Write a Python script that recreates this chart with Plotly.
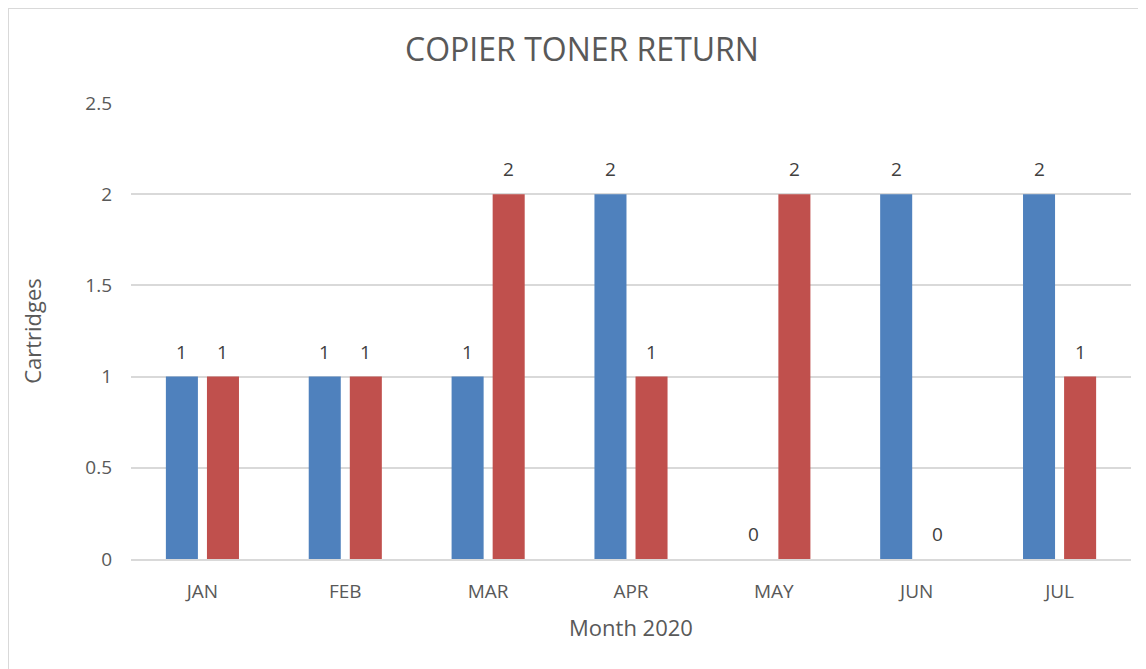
import plotly.graph_objects as go

months = ["JAN", "FEB", "MAR", "APR", "MAY", "JUN", "JUL"]
series_blue = [1, 1, 1, 2, 0, 2, 2]
series_red = [1, 1, 2, 1, 2, 0, 1]
y_ticks = [0, 0.5, 1, 1.5, 2, 2.5]
y_tick_labels = ["0", "0.5", "1", "1.5", "2", "2.5"]

FONT = "Open Sans"
GREY = "#595959"
LABEL = "#404040"

# page body has an 8px margin, so the figure is laid out in page pixels minus 8
OFF = 8
W, H = 1146 - OFF, 669 - OFF
L, R, T, B = 131 - OFF, 15, 103 - OFF, 110
pw, ph = W - L - R, H - T - B
def px(x): return (x - L) / pw
def py(y): return (H - B - y) / ph

fig = go.Figure()
fig.add_trace(go.Bar(x=months, y=series_blue, name="Series1", marker_color="#4F81BD",
                     marker_line=dict(width=0)))
fig.add_trace(go.Bar(x=months, y=series_red, name="Series2", marker_color="#C0504D",
                     marker_line=dict(width=0)))

annotations = []
for series, shift in ((series_blue, -20.5), (series_red, 20.5)):
    for m, v in zip(months, series):
        annotations.append(dict(x=m, y=v, xref="x", yref="y", text=str(v), showarrow=False,
                                xshift=shift, yshift=25, yanchor="middle", xanchor="center",
                                font=dict(size=19, color=LABEL, family=FONT)))

fig.update_layout(
    width=W, height=H,
    margin=dict(l=L, r=R, t=T, b=B),
    paper_bgcolor="white", plot_bgcolor="white",
    barmode="group", bargap=0.425, bargroupgap=0.22,
    showlegend=False,
    font=dict(family=FONT, color=GREY),
    title=dict(text="COPIER TONER RETURN", x=(582 - OFF) / W, xanchor="center", xref="container",
               y=1 - 42 / H, yanchor="middle",
               font=dict(size=32, color=GREY, family=FONT)),
    xaxis=dict(showgrid=False, showline=True, linecolor="#D9D9D9", linewidth=1.5,
               tickfont=dict(size=19, color=GREY, family=FONT), ticks="", ticklabelstandoff=14,
               title=dict(text="Month 2020", font=dict(size=22, color=GREY, family=FONT), standoff=18)),
    yaxis=dict(range=[0, 2.5], tickvals=y_ticks, ticktext=y_tick_labels,
               showgrid=True, gridcolor="#D9D9D9", gridwidth=1.5, zeroline=False,
               tickfont=dict(size=19, color=GREY, family=FONT), ticks="", ticklabelstandoff=18,
               title=dict(text="Cartridges", font=dict(size=22, color=GREY, family=FONT), standoff=37)),
    annotations=annotations,
    shapes=[
        dict(type="line", xref="paper", yref="paper", x0=px(0), x1=px(W), y0=py(0), y1=py(0),
             line=dict(color="#D9D9D9", width=2)),
        dict(type="line", xref="paper", yref="paper", x0=px(0), x1=px(0), y0=py(0), y1=py(H),
             line=dict(color="#D9D9D9", width=2)),
    ],
)

fig.write_html("out.html")
